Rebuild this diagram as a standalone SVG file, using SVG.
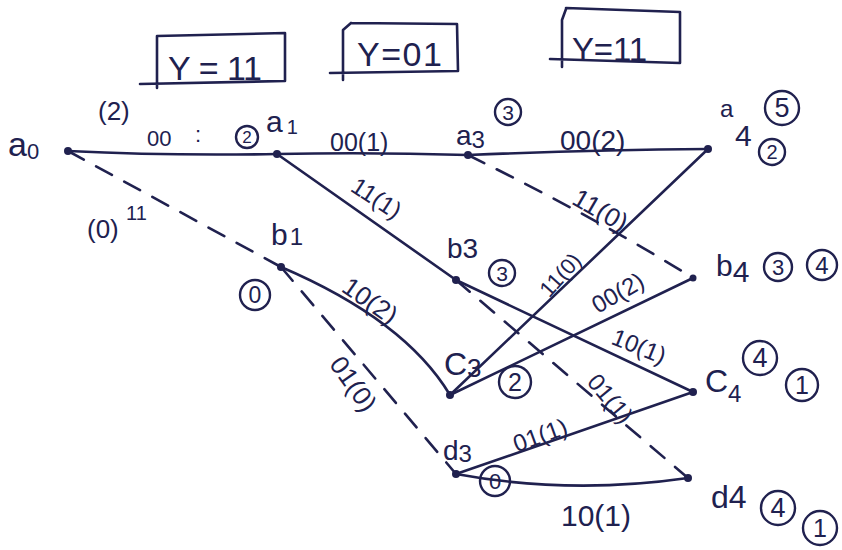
<svg xmlns="http://www.w3.org/2000/svg" width="842" height="550" viewBox="0 0 842 550">
<style>
.ink{stroke:#20214f;fill:none;stroke-width:2.6;stroke-linecap:round;stroke-linejoin:round}
.dash{stroke-dasharray:18 14}
.t{font-family:"Liberation Sans","DejaVu Sans",sans-serif;fill:#20214f}
.c{fill:none;stroke:#20214f;stroke-width:2.4}
.n{font-family:"Liberation Sans","DejaVu Sans",sans-serif;fill:#20214f;text-anchor:middle;dominant-baseline:central}
.dot{fill:#20214f}
.lbl{font-family:"Liberation Sans","DejaVu Sans",sans-serif;fill:#20214f;text-anchor:middle}
</style>
<rect width="842" height="550" fill="#ffffff"/>

<!-- Received sequence boxes -->
<g id="box-y1">
  <path class="ink" stroke-width="3" d="M140,84 L285,81 L285,33 L157,36 M157,88 L157,36"/>
  <text class="t" x="168" y="80" font-size="34" textLength="94">Y = 11</text>
</g>
<g id="box-y2">
  <path class="ink" stroke-width="3" d="M330,73 L458,71 L457,24 L351,23 M343,80 L343,30 L351,23"/>
  <text class="t" x="357" y="66" font-size="34" textLength="85">Y=01</text>
</g>
<g id="box-y3">
  <path class="ink" stroke-width="3" d="M550,59 L680,63 L680,12 L566,8 M562,67 L562,20 L566,9"/>
  <text class="t" x="572" y="61" font-size="33" textLength="75">Y=11</text>
</g>

<!-- Connectors -->
<g id="connectors">
  <path class="ink" d="M68,151 Q170,156 277,154"/>
  <path class="ink dash" d="M68,151 L281,267"/>
  <path class="ink" d="M277,154 Q370,152 468,155"/>
  <path class="ink" d="M277,154 Q350,205 456,280"/>
  <path class="ink" d="M281,267 Q405,320 450,395"/>
  <path class="ink dash" d="M281,267 L456,474"/>
  <path class="ink" d="M468,155 Q590,150 708,149"/>
  <path class="ink dash" d="M468,155 Q600,220 693,278"/>
  <path class="ink" d="M456,280 L693,392"/>
  <path class="ink dash" d="M456,280 L688,478"/>
  <path class="ink" d="M450,395 L708,149"/>
  <path class="ink" d="M450,395 L693,278"/>
  <path class="ink" d="M456,474 L693,392"/>
  <path class="ink" d="M456,474 Q570,495 688,478"/>
</g>

<!-- Edge labels -->
<g id="edge-labels">
  <text class="t" x="98" y="120" font-size="26">(2)</text>
  <text class="t" x="147" y="146" font-size="22">00</text>
  <text class="t" x="195" y="142" font-size="22">:</text>
  <circle class="c" cx="247" cy="137" r="11"/><text class="n" x="247" y="137" font-size="17">2</text>
  <text class="t" x="87" y="238" font-size="26">(0)</text>
  <text class="t" x="126" y="220" font-size="20">11</text>
  <text class="t" x="330" y="151" font-size="25">00(1)</text>
  <text class="t" x="560" y="150" font-size="28">00(2)</text>
  <text class="lbl" transform="translate(372,205) rotate(33)" font-size="24">11(1)</text>
  <text class="lbl" transform="translate(365,308) rotate(35)" font-size="26">10(2)</text>
  <text class="lbl" transform="translate(346,389) rotate(55)" font-size="26">01(0)</text>
  <text class="lbl" transform="translate(596,218) rotate(30)" font-size="26">11(0)</text>
  <text class="lbl" transform="translate(566,280) rotate(-48)" font-size="22">11(0)</text>
  <text class="lbl" transform="translate(622,300) rotate(-30)" font-size="24">00(2)</text>
  <text class="lbl" transform="translate(636,354) rotate(22)" font-size="24">10(1)</text>
  <text class="lbl" transform="translate(604,404) rotate(50)" font-size="24">01(1)</text>
  <text class="lbl" transform="translate(543,443) rotate(-20)" font-size="24">01(1)</text>
  <text class="t" x="561" y="526" font-size="30">10(1)</text>
</g>

<!-- Nodes -->
<g id="node-a0">
  <circle class="dot" cx="68" cy="151" r="4"/>
  <text class="t" x="8" y="156" font-size="34">a<tspan font-size="22" dy="3">0</tspan></text>
</g>
<g id="node-a1">
  <circle class="dot" cx="277" cy="154" r="4"/>
  <text class="t" x="266" y="132" font-size="30">a<tspan font-size="20" dx="4" dy="2">1</tspan></text>
</g>
<g id="node-a3">
  <circle class="dot" cx="468" cy="155" r="4"/>
  <text class="t" x="456" y="145" font-size="28">a<tspan font-size="24" dy="3">3</tspan></text>
  <circle class="c" cx="508" cy="112" r="13"/><text class="n" x="508" y="112" font-size="21">3</text>
</g>
<g id="node-a4">
  <circle class="dot" cx="708" cy="149" r="4"/>
  <text class="t" x="720" y="117" font-size="24">a</text>
  <text class="t" x="735" y="146" font-size="30">4</text>
  <circle class="c" cx="782" cy="108" r="17"/><text class="n" x="782" y="108" font-size="27">5</text>
  <circle class="c" cx="772" cy="152" r="13"/><text class="n" x="772" y="152" font-size="20">2</text>
</g>
<g id="node-b1">
  <circle class="dot" cx="281" cy="267" r="4"/>
  <text class="t" x="271" y="245" font-size="30">b<tspan font-size="24" dx="2">1</tspan></text>
  <circle class="c" cx="255" cy="295" r="15"/><text class="n" x="255" y="295" font-size="23">0</text>
</g>
<g id="node-b3">
  <circle class="dot" cx="456" cy="280" r="4"/>
  <text class="t" x="447" y="258" font-size="28">b3</text>
  <circle class="c" cx="502" cy="273" r="13"/><text class="n" x="502" y="273" font-size="21">3</text>
</g>
<g id="node-b4">
  <circle class="dot" cx="693" cy="278" r="3.5"/>
  <text class="t" x="716" y="276" font-size="30">b<tspan dy="6">4</tspan></text>
  <circle class="c" cx="778" cy="267" r="14"/><text class="n" x="778" y="267" font-size="22">3</text>
  <circle class="c" cx="822" cy="265" r="15"/><text class="n" x="822" y="265" font-size="24">4</text>
</g>
<g id="node-c3">
  <circle class="dot" cx="450" cy="395" r="4"/>
  <text class="t" x="444" y="375" font-size="32">C<tspan font-size="26" dy="2">3</tspan></text>
  <circle class="c" cx="515" cy="382" r="16"/><text class="n" x="515" y="382" font-size="25">2</text>
</g>
<g id="node-c4">
  <circle class="dot" cx="693" cy="392" r="4"/>
  <text class="t" x="705" y="392" font-size="32">C<tspan font-size="24" dy="10">4</tspan></text>
  <circle class="c" cx="760" cy="358" r="17"/><text class="n" x="760" y="358" font-size="27">4</text>
  <circle class="c" cx="802" cy="385" r="16"/><text class="n" x="802" y="385" font-size="25">1</text>
</g>
<g id="node-d3">
  <circle class="dot" cx="456" cy="474" r="4"/>
  <text class="t" x="443" y="460" font-size="28">d<tspan font-size="24" dy="2">3</tspan></text>
  <circle class="c" cx="495" cy="481" r="15"/><text class="n" x="495" y="481" font-size="22">0</text>
</g>
<g id="node-d4">
  <circle class="dot" cx="688" cy="478" r="4"/>
  <text class="t" x="711" y="508" font-size="32">d4</text>
  <circle class="c" cx="778" cy="508" r="17"/><text class="n" x="778" y="508" font-size="27">4</text>
  <circle class="c" cx="820" cy="528" r="17"/><text class="n" x="820" y="528" font-size="25">1</text>
</g>
</svg>
